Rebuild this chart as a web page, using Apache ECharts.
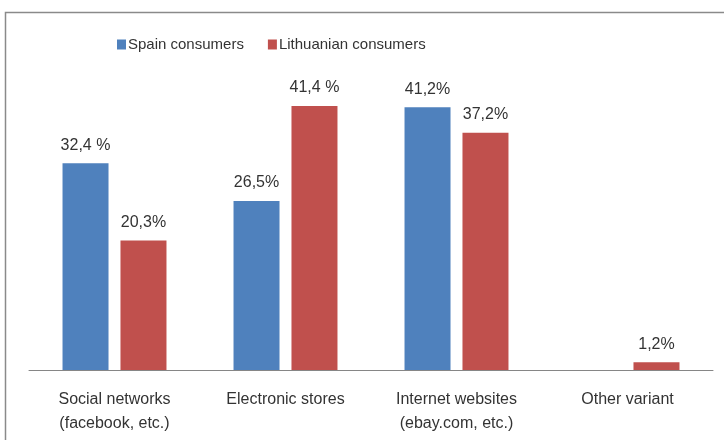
<!DOCTYPE html>
<html>
<head>
<meta charset="utf-8">
<script src="https://cdn.jsdelivr.net/npm/echarts@6/dist/echarts.min.js"></script>
<style>
  html, body { margin: 0; padding: 0; background: #fff; }
  #chart { width: 724px; height: 440px; }
</style>
</head>
<body>
<div id="chart"></div>
<script>
// categories and values
const categories = ["Social networks\n(facebook, etc.)", "Electronic stores", "Internet websites\n(ebay.com, etc.)", "Other variant"];
const spainValues = [32.4, 26.5, 41.2, null];
const lithuaniaValues = [20.3, 41.4, 37.2, 1.2];
const spainLabels = ["32,4 %", "26,5%", "41,2%", ""];
const lithuaniaLabels = ["20,3%", "41,4 %", "37,2%", "1,2%"];

const font = "'Liberation Sans', sans-serif";

const chart = echarts.init(document.getElementById("chart"));

const labelStyle = (texts) => ({
  show: true,
  position: "top",
  distance: 10,
  color: "#333333",
  fontSize: 16,
  fontFamily: font,
  formatter: (p) => texts[p.dataIndex],
});

chart.setOption({
  animation: false,
  graphic: [
    {
      type: "rect",
      shape: { x: 5.5, y: 12.5, width: 740, height: 460 },
      style: { fill: "none", stroke: "#8a8a8a", lineWidth: 1.5 },
    },
  ],
  legend: {
    left: 112,
    top: 32,
    itemWidth: 9,
    itemHeight: 10,
    itemGap: 24,
    icon: "rect",
    textStyle: { color: "#333", fontSize: 15, fontFamily: font, padding: [0, 0, 0, -3] },
    data: ["Spain consumers", "Lithuanian consumers"],
  },
  grid: { left: 29, right: 11, top: 83, bottom: 70 },
  xAxis: {
    type: "category",
    data: categories,
    axisLine: { lineStyle: { color: "#868686", width: 1 } },
    axisTick: { show: false },
    axisLabel: {
      color: "#333",
      fontSize: 16,
      fontFamily: font,
      lineHeight: 24,
      margin: 18,
      interval: 0,
    },
  },
  yAxis: {
    type: "value",
    min: 0,
    max: 45,
    show: false,
  },
  series: [
    {
      name: "Spain consumers",
      type: "bar",
      data: spainValues,
      barWidth: 46,
      barGap: "26%",
      itemStyle: { color: "#4f81bd" },
      label: labelStyle(spainLabels),
    },
    {
      name: "Lithuanian consumers",
      type: "bar",
      data: lithuaniaValues,
      barWidth: 46,
      itemStyle: { color: "#c0504d" },
      label: labelStyle(lithuaniaLabels),
    },
  ],
});
</script>
</body>
</html>
